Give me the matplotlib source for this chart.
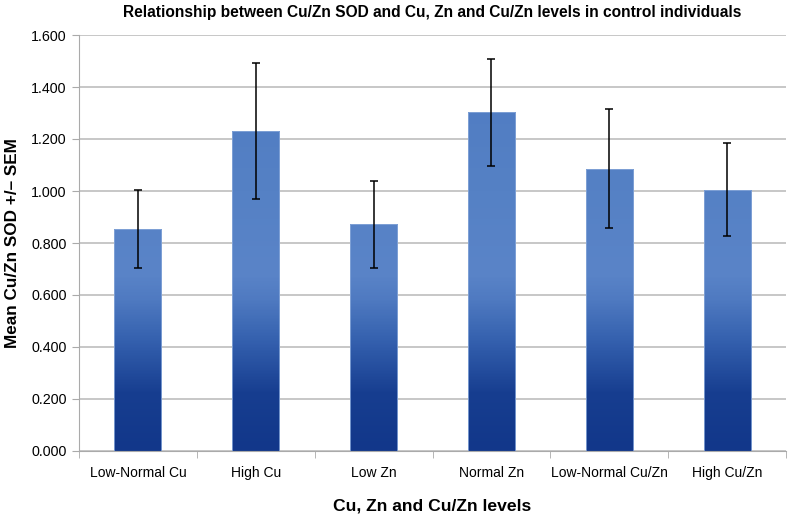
import numpy as np
import matplotlib.pyplot as plt
from matplotlib.colors import LinearSegmentedColormap

plt.rcParams['font.family'] = ['Liberation Sans', 'DejaVu Sans']

# daten
kategorien = ['Low-Normal Cu', 'High Cu', 'Low Zn', 'Normal Zn', 'Low-Normal Cu/Zn', 'High Cu/Zn']
mittelwert = [0.852, 1.230, 0.872, 1.302, 1.086, 1.005]
sem = [0.150, 0.262, 0.168, 0.207, 0.228, 0.178]

fig = plt.figure(figsize=(7.91, 5.18), dpi=100)
ax = fig.add_axes([79/791, 1 - 451/518, 707/791, 416/518])

# verlauf dunkel unten -> hell oben (in datenwerten)
stops = [(0.0, '#12378a'), (0.22/1.6, '#173e90'), (0.42/1.6, '#3460ae'),
         (0.58/1.6, '#4f7ac1'), (0.68/1.6, '#5a84c8'), (1.0/1.6, '#5581c5'), (1.0, '#4e7ac1')]
cmap = LinearSegmentedColormap.from_list('balken', stops)
grad = np.linspace(0, 1, 400).reshape(-1, 1)

x = np.arange(len(kategorien))
bars = ax.bar(x, mittelwert, width=0.4, facecolor='none', edgecolor='none', zorder=2)
for b in bars:
    im = ax.imshow(grad, cmap=cmap, origin='lower', aspect='auto',
                   extent=[b.get_x(), b.get_x() + b.get_width(), 0, 1.6], zorder=2)
    im.set_clip_path(b)
    ax.add_patch(plt.Rectangle((b.get_x(), 0), b.get_width(), b.get_height(),
                               fill=False, edgecolor='#86a6d8', lw=0.6, zorder=3))

ax.errorbar(x, mittelwert, yerr=sem, fmt='none', ecolor='black', elinewidth=1.1,
            capsize=3, capthick=1.1, zorder=4)

ax.set_xlim(-0.5, len(kategorien) - 0.5)
ax.set_ylim(0, 1.6)
ax.set_yticks(np.arange(0, 1.61, 0.2))
ax.set_yticklabels(['%.3f' % v for v in np.arange(0, 1.61, 0.2)], fontsize=10.3)
ax.yaxis.grid(True, color='#bdbdbd', lw=1.2, zorder=0)
ax.set_axisbelow(True)

ax.set_xticks(x)
ax.set_xticklabels(kategorien, fontsize=10)
ax.tick_params(axis='x', length=0, pad=11)
ax.set_xticks(np.arange(-0.5, len(kategorien)), minor=True)
ax.tick_params(axis='x', which='minor', length=5, color='#aaaaaa')
ax.tick_params(axis='y', length=5, color='#aaaaaa', pad=4)

ax.spines['right'].set_color('none')
ax.spines['top'].set_color('none')
ax.spines['left'].set_color('#aaaaaa')
ax.spines['bottom'].set_color('#aaaaaa')

ax.set_title('Relationship between Cu/Zn SOD and Cu, Zn and Cu/Zn levels in control individuals',
             fontsize=11.2, fontweight='bold', pad=13)
ax.set_xlabel('Cu, Zn and Cu/Zn levels', fontsize=12.6, fontweight='bold', labelpad=13)
ax.set_ylabel('Mean Cu/Zn SOD +/\u2013 SEM', fontsize=12.3, fontweight='bold', labelpad=8)

fig.savefig('out.png', dpi=100)
